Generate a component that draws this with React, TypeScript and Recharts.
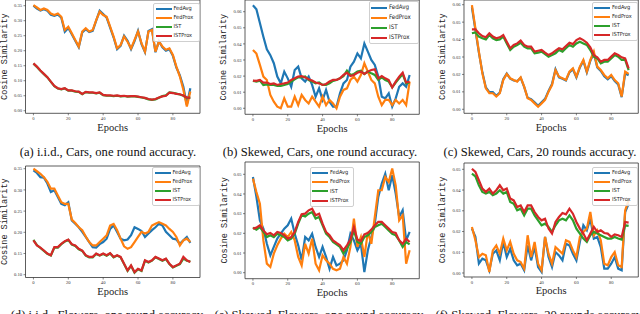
import React from 'react';
import { LineChart, Line, XAxis, YAxis, ReferenceArea, Legend } from 'recharts';

const epochs = [0,2,4,6,8,10,12,14,16,18,20,22,24,26,28,30,32,34,36,38,40,42,44,46,48,50,52,54,56,58,60,62,64,66,68,70,72,74,76,78,80,82,84,86,88,90];

const SERIES = [
  { key: 'FedAvg', color: '#1f77b4' },
  { key: 'FedProx', color: '#ff7f0e' },
  { key: 'IST', color: '#2ca02c' },
  { key: 'ISTProx', color: '#d62728' },
];

const xTicks = [0, 20, 40, 60, 80];
const yTicksCarsIid = [0, 0.05, 0.1, 0.15, 0.2, 0.25, 0.3, 0.35];
const yTicksCarsSkew = [0, 0.01, 0.02, 0.03, 0.04, 0.05, 0.06];
const yTicksFlowersIid = [0.1, 0.15, 0.2, 0.25, 0.3, 0.35];
const yTicksFlowersSkew = [0, 0.01, 0.02, 0.03, 0.04, 0.05];

const captions = [
  '(a) i.i.d., Cars, one round accuracy.',
  '(b) Skewed, Cars, one round accuracy.',
  '(c) Skewed, Cars, 20 rounds accuracy.',
  '(d) i.i.d., Flowers, one round accuracy.',
  '(e) Skewed, Flowers, one round accuracy.',
  '(f) Skewed, Flowers, 20 rounds accuracy.',
];

// (a) i.i.d., Cars, one round
const aFedAvg = [0.350,0.340,0.334,0.338,0.333,0.320,0.316,0.321,0.310,0.263,0.276,0.255,0.233,0.212,0.261,0.272,0.262,0.266,0.300,0.333,0.322,0.310,0.277,0.244,0.205,0.216,0.250,0.233,0.205,0.232,0.266,0.222,0.195,0.266,0.272,0.195,0.232,0.211,0.200,0.205,0.183,0.144,0.118,0.080,0.020,0.075];
const aFedProx = [0.352,0.344,0.336,0.341,0.336,0.324,0.319,0.324,0.313,0.269,0.280,0.258,0.236,0.214,0.264,0.275,0.264,0.269,0.302,0.330,0.319,0.313,0.280,0.247,0.208,0.219,0.247,0.230,0.208,0.236,0.264,0.225,0.197,0.264,0.269,0.197,0.230,0.214,0.203,0.208,0.186,0.147,0.114,0.070,0.014,0.064];
const aIST = [0.157,0.146,0.133,0.122,0.111,0.096,0.082,0.074,0.071,0.074,0.067,0.067,0.064,0.063,0.055,0.062,0.060,0.060,0.058,0.060,0.052,0.050,0.050,0.049,0.050,0.048,0.049,0.047,0.048,0.048,0.046,0.044,0.042,0.038,0.036,0.038,0.043,0.049,0.051,0.061,0.060,0.057,0.054,0.050,0.043,0.043];
const aISTProx = [0.158,0.147,0.134,0.123,0.112,0.097,0.083,0.075,0.072,0.075,0.068,0.068,0.065,0.064,0.056,0.063,0.061,0.061,0.059,0.061,0.053,0.051,0.051,0.050,0.051,0.049,0.050,0.048,0.049,0.049,0.047,0.045,0.043,0.039,0.037,0.039,0.044,0.048,0.050,0.060,0.059,0.056,0.055,0.051,0.044,0.044];

// (b) Skewed, Cars, one round
const bFedAvg = [0.064,0.0615,0.053,0.0445,0.0366,0.033,0.028,0.0197,0.0155,0.0228,0.0186,0.0134,0.0238,0.0259,0.0186,0.0166,0.0197,0.0145,0.0072,0.0124,0.0052,0.0114,0.0041,0.001,0.001,0.0093,0.0155,0.0176,0.0259,0.029,0.0341,0.031,0.0403,0.0352,0.030,0.0269,0.0197,0.0072,0.0062,0.0093,0.001,0.0062,0.0134,0.0155,0.0134,0.0207];
const bFedProx = [0.0362,0.034,0.027,0.0197,0.0176,0.0083,0.0041,0.001,0.000,0.0062,0.001,0.001,0.0072,0.002,0.0083,0.0052,0.003,0.0072,0.0041,0.001,0.0072,0.002,0.0052,0.003,0.000,0.0072,0.0114,0.0124,0.0176,0.0197,0.0166,0.0207,0.028,0.0228,0.0176,0.0155,0.0072,0.002,0.0052,0.0052,0.002,0.0052,0.003,0.0052,0.002,0.0166];
const bIST = [0.017,0.0166,0.0172,0.0145,0.0149,0.0145,0.0145,0.0139,0.0139,0.0145,0.0151,0.0166,0.018,0.0192,0.0192,0.0197,0.0176,0.0166,0.0155,0.016,0.0145,0.0145,0.0155,0.017,0.0176,0.0186,0.020,0.0234,0.0207,0.0213,0.0228,0.0234,0.0213,0.0228,0.0217,0.0207,0.0176,0.0192,0.0176,0.0166,0.013,0.016,0.0186,0.0213,0.0155,0.016];
const bISTProx = [0.0172,0.017,0.0176,0.016,0.016,0.0151,0.0155,0.0145,0.0151,0.0155,0.016,0.0176,0.0186,0.0197,0.020,0.0192,0.018,0.0172,0.016,0.0155,0.0145,0.0151,0.0166,0.0176,0.0176,0.0186,0.0207,0.0221,0.020,0.0207,0.0221,0.0228,0.0213,0.0228,0.0238,0.0242,0.0186,0.020,0.0186,0.0176,0.013,0.0166,0.0197,0.0221,0.016,0.0166];

// (c) Skewed, Cars, 20 rounds
const cFedAvg = [0.0585,0.0455,0.0325,0.0212,0.0125,0.0098,0.0098,0.0078,0.0096,0.0172,0.0205,0.0176,0.0165,0.0162,0.0180,0.0128,0.0066,0.0058,0.0040,0.0020,0.0040,0.0060,0.0105,0.0145,0.0230,0.0183,0.0175,0.0165,0.0212,0.0230,0.0183,0.0240,0.0278,0.0212,0.0278,0.0320,0.0240,0.0220,0.0190,0.0172,0.0190,0.0162,0.0143,0.0070,0.0205,0.0196];
const cFedProx = [0.0598,0.0464,0.0331,0.0206,0.012,0.0092,0.0092,0.0073,0.0092,0.0168,0.0203,0.0178,0.0168,0.0159,0.0183,0.013,0.0063,0.0054,0.0034,0.0015,0.0034,0.0054,0.0101,0.0139,0.0225,0.0187,0.0178,0.0168,0.0216,0.0235,0.0187,0.0245,0.0283,0.0216,0.0283,0.0331,0.0245,0.0225,0.0197,0.0178,0.0197,0.0168,0.0149,0.0073,0.0216,0.0203];
const cIST = [0.0436,0.0441,0.0417,0.0407,0.0401,0.0426,0.0407,0.0397,0.0401,0.0417,0.0378,0.034,0.0359,0.0369,0.0382,0.0359,0.035,0.035,0.0321,0.0325,0.0331,0.0317,0.0302,0.0311,0.0321,0.034,0.0331,0.035,0.0369,0.0359,0.0378,0.0388,0.0378,0.0369,0.034,0.0302,0.0292,0.0264,0.0273,0.0273,0.0292,0.0311,0.0302,0.0283,0.0283,0.0225];
const cISTProx = [0.0459,0.0459,0.0436,0.042,0.0413,0.0436,0.0417,0.0407,0.0413,0.0426,0.0388,0.035,0.0369,0.0378,0.0394,0.0369,0.0359,0.0359,0.0331,0.0336,0.034,0.0325,0.0311,0.0321,0.0336,0.035,0.0344,0.0363,0.0382,0.0374,0.0397,0.0407,0.0397,0.0382,0.0355,0.0311,0.0298,0.0273,0.0283,0.0283,0.0302,0.0321,0.0311,0.0298,0.0292,0.0235];

// (d) i.i.d., Flowers, one round
const dFedAvg = [0.346,0.340,0.330,0.329,0.315,0.295,0.299,0.283,0.267,0.264,0.271,0.228,0.220,0.212,0.201,0.189,0.177,0.165,0.164,0.172,0.177,0.185,0.208,0.216,0.201,0.185,0.181,0.183,0.193,0.212,0.208,0.203,0.189,0.197,0.205,0.212,0.220,0.216,0.201,0.193,0.185,0.183,0.173,0.181,0.189,0.175];
const dFedProx = [0.350,0.344,0.338,0.330,0.319,0.303,0.303,0.287,0.271,0.267,0.267,0.230,0.222,0.212,0.205,0.190,0.177,0.169,0.169,0.177,0.185,0.193,0.216,0.220,0.205,0.185,0.167,0.161,0.165,0.177,0.189,0.201,0.197,0.201,0.216,0.220,0.224,0.220,0.216,0.208,0.201,0.189,0.169,0.181,0.185,0.177];
const dIST = [0.182,0.170,0.163,0.156,0.149,0.145,0.164,0.164,0.172,0.178,0.182,0.171,0.168,0.160,0.156,0.145,0.141,0.141,0.149,0.145,0.149,0.145,0.150,0.141,0.145,0.141,0.125,0.109,0.121,0.105,0.113,0.109,0.133,0.129,0.133,0.141,0.137,0.133,0.137,0.125,0.117,0.121,0.125,0.138,0.133,0.131];
const dISTProx = [0.181,0.169,0.164,0.157,0.150,0.146,0.165,0.165,0.173,0.179,0.183,0.172,0.169,0.161,0.157,0.146,0.142,0.142,0.150,0.146,0.150,0.146,0.151,0.142,0.146,0.142,0.126,0.110,0.122,0.106,0.114,0.110,0.134,0.130,0.134,0.142,0.138,0.134,0.138,0.126,0.118,0.122,0.126,0.142,0.134,0.130];

// (e) Skewed, Flowers, one round
const eFedAvg = [0.0486,0.0385,0.0266,0.0224,0.0147,0.0088,0.0131,0.0173,0.0198,0.0224,0.0241,0.0275,0.0198,0.0139,0.0063,0.0181,0.0164,0.0198,0.0131,0.008,0.0131,0.008,0.002,0.008,0.0037,0.0046,0.0063,0.0114,0.0198,0.0164,0.0114,0.0147,0.0003,0.0114,0.0181,0.0249,0.0385,0.0453,0.0503,0.0419,0.0495,0.0402,0.0283,0.0317,0.0164,0.0207];
const eFedProx = [0.0478,0.041,0.0351,0.0164,0.0046,0.0029,0.0097,0.0139,0.0173,0.0198,0.0181,0.0207,0.0164,0.008,0.0037,0.0147,0.0097,0.0173,0.0046,0.0012,0.0088,0.0063,0.0046,0.002,0.0012,0.002,0.008,0.0046,0.0131,0.0275,0.0131,0.0181,0.008,0.0207,0.0147,0.0283,0.0419,0.0419,0.0486,0.0461,0.0529,0.0444,0.0266,0.0292,0.0046,0.0114];
const eIST = [0.0229,0.0219,0.0232,0.0207,0.0181,0.019,0.0181,0.0198,0.019,0.0181,0.0164,0.0173,0.0198,0.0249,0.0292,0.0286,0.03,0.0308,0.0275,0.0283,0.0241,0.0198,0.0181,0.0156,0.0144,0.0131,0.0097,0.0122,0.0156,0.0215,0.0156,0.0147,0.0181,0.019,0.0207,0.0232,0.0241,0.0249,0.0232,0.0215,0.0198,0.019,0.0164,0.0131,0.0156,0.0144];
const eISTProx = [0.0224,0.0229,0.0241,0.0215,0.0195,0.0202,0.019,0.0207,0.0202,0.019,0.0173,0.0181,0.0207,0.0258,0.0297,0.03,0.0317,0.0325,0.0292,0.03,0.0249,0.0207,0.019,0.0164,0.0151,0.0139,0.0114,0.0139,0.0168,0.0232,0.0168,0.0161,0.0195,0.0202,0.0219,0.0241,0.0258,0.0258,0.0241,0.0224,0.0207,0.0202,0.0164,0.0147,0.0173,0.0156];

// (f) Skewed, Flowers, 20 rounds
const fFedAvg = [0.0214,0.0174,0.0045,0.0069,0.0061,0.0013,0.0093,0.0109,0.0061,0.015,0.0077,0.0117,0.0061,0.0037,0.0045,0.0013,0.0133,0.0061,0.0125,0.0029,0.0005,0.0174,0.0077,0.0029,0.0101,0.0085,0.0061,0.0141,0.0133,0.0093,0.0061,0.015,0.023,0.0206,0.0262,0.0166,0.0174,0.0125,0.0021,0.0021,0.0045,0.0077,0.0021,0.0013,0.0294,0.0334];
const fFedProx = [0.0222,0.0158,0.0077,0.0093,0.0085,0.0005,0.0109,0.0133,0.0093,0.0166,0.0109,0.015,0.0093,0.0061,0.0053,0.0021,0.0182,0.0077,0.015,0.0045,0.0013,0.0174,0.0093,0.0045,0.0125,0.0109,0.0093,0.0158,0.015,0.0109,0.0077,0.0174,0.0198,0.0214,0.0294,0.0182,0.0206,0.0158,0.0045,0.0037,0.0077,0.0101,0.0037,0.0029,0.0302,0.0351];
const fIST = [0.0479,0.0466,0.0423,0.0391,0.0383,0.0391,0.0375,0.0383,0.0399,0.0383,0.0391,0.0342,0.0334,0.0302,0.031,0.0278,0.031,0.031,0.0278,0.0254,0.023,0.0238,0.0222,0.0198,0.023,0.0254,0.0262,0.0254,0.0278,0.0254,0.0214,0.019,0.0166,0.015,0.0182,0.0198,0.019,0.0182,0.0174,0.0166,0.0166,0.0174,0.0166,0.0161,0.023,0.0227];
const fISTProx = [0.0503,0.0487,0.0447,0.0407,0.0391,0.0407,0.0383,0.0399,0.0423,0.0399,0.0407,0.0359,0.035,0.0318,0.0326,0.0294,0.0326,0.0326,0.0294,0.027,0.0254,0.0262,0.0214,0.019,0.0246,0.027,0.0289,0.0283,0.031,0.0286,0.0246,0.0214,0.019,0.0158,0.019,0.0222,0.0198,0.0206,0.0193,0.019,0.0174,0.0186,0.0182,0.0174,0.0246,0.0243];

function buildRows(fa: number[], fp: number[], ist: number[], istp: number[]) {
  return epochs.map((e, i) => ({ epoch: e, FedAvg: fa[i], FedProx: fp[i], IST: ist[i], ISTProx: istp[i] }));
}

const X_DOMAIN: [number, number] = [-4.55, 95.55];

const panels = [
  { data: buildRows(aFedAvg, aFedProx, aIST, aISTProx), col: 0, box: { l: 25.5, t: 0, r: 200, b: 113.3 }, yDomain: [-0.0085, 0.369], yTicks: yTicksCarsIid, legend: { x: 153, y: 3, w: 46.5, rowH: 9, fs: 5.6 }, caption: captions[0], capX: 108, capY: 152 },
  { data: buildRows(bFedAvg, bFedProx, bIST, bISTProx), col: 212, box: { l: 245, t: 0, r: 419.3, b: 114.3 }, yDomain: [-0.00373, 0.06727], yTicks: yTicksCarsSkew, legend: { x: 368.5, y: 1, w: 50.3, rowH: 10, fs: 6.2 }, caption: captions[1], capX: 320, capY: 152 },
  { data: buildRows(cFedAvg, cFedProx, cIST, cISTProx), col: 425, box: { l: 464, t: 0, r: 638.3, b: 113.3 }, yDomain: [-0.0023, 0.0627], yTicks: yTicksCarsSkew, legend: { x: 591.5, y: 2, w: 46.3, rowH: 9, fs: 5.6 }, caption: captions[2], capX: 540, capY: 152 },
  { data: buildRows(dFedAvg, dFedProx, dIST, dISTProx), col: 0, box: { l: 25.5, t: 166, r: 200, b: 277.5 }, yDomain: [0.0934, 0.3564], yTicks: yTicksFlowersIid, legend: { x: 152, y: 166.5, w: 47.5, rowH: 9, fs: 5.6 }, caption: captions[3], capX: 108, capY: 315 },
  { data: buildRows(eFedAvg, eFedProx, eIST, eISTProx), col: 212, box: { l: 245, t: 162, r: 419.3, b: 278.7 }, yDomain: [-0.00305, 0.05625], yTicks: yTicksFlowersSkew, legend: { x: 309.5, y: 167, w: 44.5, rowH: 9.2, fs: 5.6 }, caption: captions[4], capX: 320, capY: 315 },
  { data: buildRows(fFedAvg, fFedProx, fIST, fISTProx), col: 425, box: { l: 464, t: 163, r: 638.3, b: 277 }, yDomain: [-0.00193, 0.05304], yTicks: yTicksFlowersSkew, legend: { x: 591.5, y: 167, w: 46.3, rowH: 9, fs: 5.6 }, caption: captions[5], capX: 540, capY: 315 },
];

const tickStyle = { fontSize: 4.6, fill: '#333', fontFamily: '"Liberation Serif", serif' };

const YLabel = (props: any) => {
  const vb = props.viewBox || { x: 0, y: 0, width: 0, height: 0 };
  const cx = vb.x + props.offX;
  const cy = vb.y + vb.height / 2;
  return (
    <text x={cx} y={cy} transform={`rotate(-90 ${cx} ${cy})`} textAnchor="middle" dominantBaseline="central"
      style={{ fontFamily: '"Liberation Mono", monospace', fontSize: 8.5, fill: '#222' }}>
      Cosine Similarity
    </text>
  );
};

const XLabel = (props: any) => {
  const vb = props.viewBox || { x: 0, y: 0, width: 0, height: 0 };
  const cx = vb.x + vb.width / 2;
  const cy = vb.y + 14;
  return (
    <text x={cx} y={cy} textAnchor="middle" dominantBaseline="central"
      style={{ fontFamily: '"Liberation Serif", serif', fontSize: 10.5, fill: '#222' }}>
      Epochs
    </text>
  );
};

const makeLegend = (lg: any) => () => (
  <div style={{ background: 'rgba(255,255,255,0.85)', border: '0.8px solid #cfcfcf', borderRadius: 2, padding: '0.5px 1.5px', boxSizing: 'border-box', width: lg.w }}>
    {SERIES.map((s) => (
      <div key={s.key} style={{ display: 'flex', alignItems: 'center', height: lg.rowH }}>
        <span style={{ display: 'inline-block', width: 16, height: 2, background: s.color, marginRight: 2, flex: 'none' }} />
        <span style={{ fontSize: lg.fs, lineHeight: 1, color: '#222', fontFamily: '"Liberation Sans Narrow", "DejaVu Sans Condensed", "Liberation Sans", sans-serif', whiteSpace: 'nowrap' }}>{s.key}</span>
      </div>
    ))}
  </div>
);

const MT = 6;
const MR = 3;
const XH = 24;

function Panel({ p }: { p: any }) {
  const left = p.col;
  const top = p.box.t - MT;
  const width = p.box.r - left + MR;
  const height = p.box.b - p.box.t + MT + XH;
  const yw = p.box.l - left;
  return (
    <div style={{ position: 'absolute', left, top, width, height }}>
      <LineChart width={width} height={height} data={p.data} margin={{ top: MT, right: MR, left: 0, bottom: 0 }}>
        <XAxis dataKey="epoch" type="number" domain={X_DOMAIN} allowDataOverflow ticks={xTicks} interval={0}
          height={XH} tickSize={2} tickMargin={1.5} axisLine={false}
          tickLine={{ stroke: '#333', strokeWidth: 0.6 }} tick={tickStyle} label={<XLabel />} />
        <YAxis type="number" domain={p.yDomain} allowDataOverflow ticks={p.yTicks} interval={0}
          width={yw} tickSize={2} tickMargin={1.5} axisLine={false}
          tickLine={{ stroke: '#333', strokeWidth: 0.6 }} tick={tickStyle}
          tickFormatter={(v: number) => v.toFixed(2)} label={<YLabel offX={yw - 20.5} />} />
        <ReferenceArea x1={X_DOMAIN[0]} x2={X_DOMAIN[1]} y1={p.yDomain[0]} y2={p.yDomain[1]}
          fill="none" fillOpacity={0} stroke="#333" strokeWidth={0.8} ifOverflow="visible" />
        {SERIES.map((s) => (
          <Line key={s.key} dataKey={s.key} type="linear" stroke={s.color} strokeWidth={2.2} dot={false}
            activeDot={false} isAnimationActive={false} />
        ))}
        <Legend layout="vertical" align="center" verticalAlign="middle" content={makeLegend(p.legend)}
          wrapperStyle={{ left: p.legend.x - left, top: p.legend.y - top, width: p.legend.w, margin: 0 }} />
      </LineChart>
    </div>
  );
}

export default function App() {
  return (
    <div style={{ position: 'fixed', left: 0, top: 0, width: 640, height: 314, overflow: 'hidden', background: '#fff' }}>
      {panels.map((p, i) => (
        <Panel key={i} p={p} />
      ))}
      {panels.map((p, i) => (
        <div key={'c' + i} style={{ position: 'absolute', left: p.capX - 160, width: 320, top: p.capY - 9, height: 18, lineHeight: '18px', textAlign: 'center', fontFamily: '"Liberation Serif", serif', fontSize: 12.6, color: '#111', whiteSpace: 'nowrap' }}>
          {p.caption}
        </div>
      ))}
    </div>
  );
}
